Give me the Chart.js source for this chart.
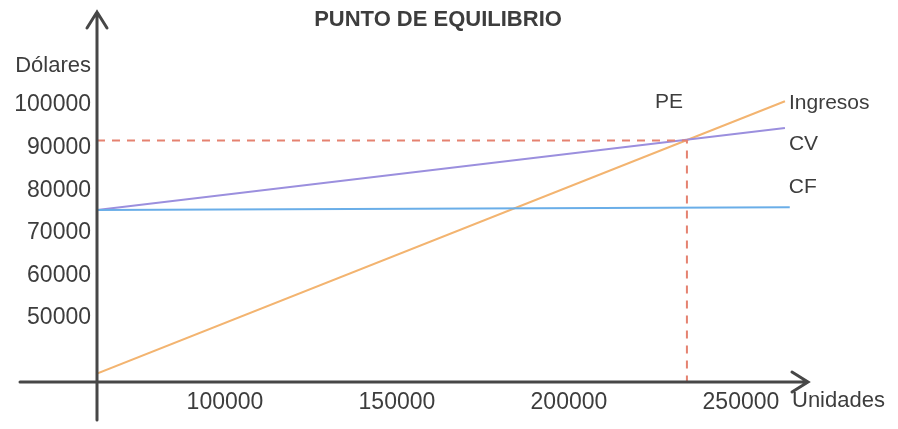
<!DOCTYPE html>
<html>
<head>
<meta charset="utf-8">
<script src="https://cdn.jsdelivr.net/npm/chart.js@4/dist/chart.umd.min.js"></script>
<style>
  html, body { margin: 0; padding: 0; background: #fff; }
  #wrap { width: 898px; height: 429px; }
</style>
</head>
<body>
<div id="wrap"><canvas id="grafico"></canvas></div>
<script>
// Datos del gráfico (esquema no a escala)
const titulo = 'PUNTO DE EQUILIBRIO';
const unidadesX = [62800, 262800];       // extremos de las rectas
const ingresos = [37000, 100900];
const costoVariable = [75350, 94600];
const costoFijoX = [62800, 264200];
const costoFijo = [75350, 76000];
const puntoEquilibrio = { x: 234300, y: 91700 };

const ticksX = [100000, 150000, 200000, 250000];
const ticksY = [50000, 60000, 70000, 80000, 90000, 100000];

const rangoX = [62800, 269500];
const rangoY = [35000, 121850];

const colorEje = '#474747';
const colorTexto = '#3d3d3d';
const fuente = '"Liberation Sans", Arial, sans-serif';

function puntos(xs, ys) {
    return xs.map((x, i) => ({ x: x, y: ys[i] }));
}

// Ejes con flechas + textos de las series
const ejesPlugin = {
    id: 'ejes',
    afterDatasetsDraw(chart) {
        const { ctx, chartArea: a } = chart;
        ctx.save();
        ctx.strokeStyle = colorEje;
        ctx.lineWidth = 3;
        ctx.lineCap = 'round';
        ctx.beginPath();
        // eje x
        ctx.moveTo(20, a.bottom);
        ctx.lineTo(a.right, a.bottom);
        ctx.moveTo(a.right - 16, a.bottom - 10);
        ctx.lineTo(a.right, a.bottom);
        ctx.lineTo(a.right - 16, a.bottom + 10);
        // eje y
        ctx.moveTo(a.left, 420);
        ctx.lineTo(a.left, a.top);
        ctx.moveTo(a.left - 10, a.top + 16);
        ctx.lineTo(a.left, a.top);
        ctx.lineTo(a.left + 10, a.top + 16);
        ctx.stroke();

        ctx.fillStyle = colorTexto;
        ctx.font = '22px ' + fuente;
        ctx.textBaseline = 'middle';
        ctx.textAlign = 'left';
        ctx.fillText('Unidades', a.right - 16, 401);
        ctx.textAlign = 'right';
        ctx.fillText('Dólares', a.left - 6, 66);

        ctx.font = 'bold 22px ' + fuente;
        ctx.textAlign = 'center';
        ctx.fillText(titulo, 438, 20);

        // etiquetas al final de cada serie
        ctx.font = '21px ' + fuente;
        ctx.textAlign = 'left';
        chart.data.datasets.forEach((ds, i) => {
            if (!ds.etiqueta) return;
            const meta = chart.getDatasetMeta(i);
            const p = meta.data[ds.anclaje];
            ctx.fillText(ds.etiqueta, p.x + ds.desplazamiento[0], p.y + ds.desplazamiento[1]);
        });
        ctx.restore();
    }
};

new Chart(document.getElementById('grafico'), {
    type: 'scatter',
    data: {
        datasets: [
            {
                label: 'PE',
                data: [
                    { x: rangoX[0], y: puntoEquilibrio.y },
                    puntoEquilibrio,
                    { x: puntoEquilibrio.x, y: rangoY[0] }
                ],
                borderColor: '#e58270',
                borderWidth: 2,
                borderDash: [8, 7],
                etiqueta: 'PE', anclaje: 1, desplazamiento: [-32, -38]
            },
            {
                label: 'CF',
                data: puntos(costoFijoX, costoFijo),
                borderColor: '#6aaee8',
                borderWidth: 2,
                etiqueta: 'CF', anclaje: 1, desplazamiento: [-1, -20]
            },
            {
                label: 'CV',
                data: puntos(unidadesX, costoVariable),
                borderColor: '#9b8fde',
                borderWidth: 2,
                etiqueta: 'CV', anclaje: 1, desplazamiento: [4, 16]
            },
            {
                label: 'Ingresos',
                data: puntos(unidadesX, ingresos),
                borderColor: '#f3b470',
                borderWidth: 2,
                etiqueta: 'Ingresos', anclaje: 1, desplazamiento: [4, 2]
            }
        ].map(ds => Object.assign({ showLine: true, pointRadius: 0, tension: 0 }, ds))
    },
    options: {
        responsive: true,
        maintainAspectRatio: false,
        animation: false,
        layout: { padding: { top: 12, right: 90, bottom: 0, left: 0 } },
        plugins: {
            legend: { display: false },
            tooltip: { enabled: false }
        },
        scales: {
            x: {
                type: 'linear',
                min: rangoX[0],
                max: rangoX[1],
                grid: { display: false, drawTicks: false },
                border: { display: false },
                afterBuildTicks: s => { s.ticks = ticksX.map(v => ({ value: v })); },
                afterFit: s => {
                    s.height = 47;
                    s.paddingLeft = 0;
                    s.paddingRight = 0;
                },
                ticks: {
                    padding: 7,
                    maxRotation: 0,
                    autoSkip: false,
                    color: colorTexto,
                    font: { family: fuente, size: 23 },
                    callback: v => String(v)
                }
            },
            y: {
                type: 'linear',
                min: rangoY[0],
                max: rangoY[1],
                grid: { display: false, drawTicks: false },
                border: { display: false },
                afterBuildTicks: s => { s.ticks = ticksY.map(v => ({ value: v })); },
                afterFit: s => {
                    s.width = 97;
                    s.paddingTop = 0;
                    s.paddingBottom = 0;
                },
                ticks: {
                    padding: 6,
                    autoSkip: false,
                    color: colorTexto,
                    font: { family: fuente, size: 23 },
                    callback: v => String(v)
                }
            }
        }
    },
    plugins: [ejesPlugin]
});
</script>
</body>
</html>
